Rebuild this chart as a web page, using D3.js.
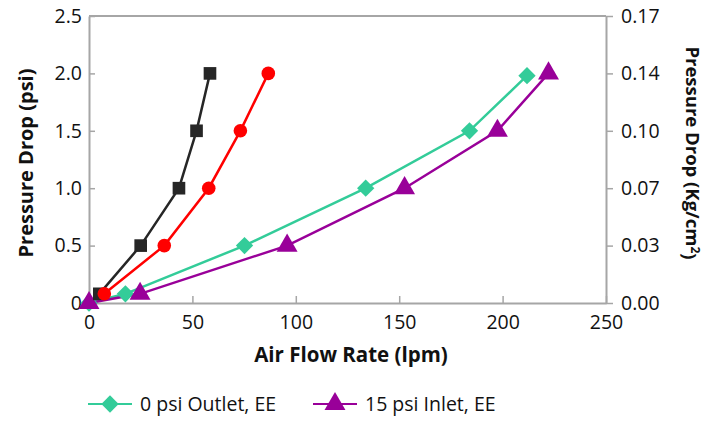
<!DOCTYPE html>
<html><head><meta charset="utf-8">
<script src="https://cdn.jsdelivr.net/npm/d3@7"></script>
<style>body{margin:0;background:#fff}svg{display:block;font-family:"Open Sans",sans-serif}</style>
</head><body><svg id="c" width="718" height="421"></svg>
<script>
const xTicks = [0, 50, 100, 150, 200, 250];
const yTicks = [0, 0.5, 1.0, 1.5, 2.0, 2.5];
const yTickLabels = ["0", "0.5", "1.0", "1.5", "2.0", "2.5"];
const y2TickLabels = ["0.00", "0.03", "0.07", "0.10", "0.14", "0.17"];

const blackX = [5, 25, 43.5, 52, 58.5];
const blackY = [0.08, 0.5, 1.0, 1.5, 2.0];
const redX = [7.4, 36.4, 57.9, 73.2, 86.7];
const redY = [0.08, 0.5, 1.0, 1.5, 2.0];
const greenX = [0, 17.6, 75.2, 133.8, 184, 211.8];
const greenY = [0, 0.08, 0.5, 1.0, 1.5, 1.98];
const purpleX = [0, 24.7, 95.8, 152.6, 197.5, 222.2];
const purpleY = [0, 0.08, 0.5, 1.0, 1.5, 2.0];

const legendNames = ["0 psi Outlet, EE", "15 psi Inlet, EE"];

const svg = d3.select("#c");
const L = 89, R = 606, T = 16, B = 303;
const x = d3.scaleLinear().domain([0, 250]).range([L, R]);
const y = d3.scaleLinear().domain([0, 2.5]).range([B, T]);
const axisCol = "#a6a6a6";
const tickFont = "19.5px";

svg.append("line").attr("x1", L).attr("x2", R).attr("y1", T).attr("y2", T).attr("stroke", axisCol).attr("stroke-width", 2);

const gx = svg.append("g").attr("transform", `translate(0,${B})`)
  .call(d3.axisBottom(x).tickValues(xTicks).tickSizeInner(-7).tickSizeOuter(0).tickPadding(12));
const gy = svg.append("g").attr("transform", `translate(${L},0)`)
  .call(d3.axisLeft(y).tickValues(yTicks).tickSizeInner(-6).tickSizeOuter(0).tickPadding(7)
    .tickFormat((d, i) => yTickLabels[i]));
const gy2 = svg.append("g").attr("transform", `translate(${R},0)`)
  .call(d3.axisRight(y).tickValues(yTicks).tickSizeInner(7).tickSizeOuter(0).tickPadding(8)
    .tickFormat((d, i) => y2TickLabels[i]));
[gx, gy, gy2].forEach(g => {
  g.select(".domain").attr("stroke", axisCol).attr("stroke-width", 2);
  g.selectAll(".tick line").attr("stroke", axisCol).attr("stroke-width", 1.5);
  g.selectAll(".tick text").attr("fill", "#111").style("font-size", tickFont).style("font-family", "'Open Sans',sans-serif");
});
gx.selectAll(".tick text").attr("dy", "0.71em");

svg.append("text").attr("transform", "translate(33,163) rotate(-90)").attr("text-anchor", "middle")
  .style("font-weight", "bold").style("font-size", "20px").attr("fill", "#111").text("Pressure Drop  (psi)");
svg.append("text").attr("x", 351).attr("y", 362).attr("text-anchor", "middle")
  .style("font-weight", "bold").style("font-size", "20.5px").attr("fill", "#111").text("Air Flow Rate (lpm)");
const t2 = svg.append("text").attr("transform", "translate(686,153) rotate(90)").attr("text-anchor", "middle")
  .style("font-weight", "bold").style("font-size", "18.5px").attr("fill", "#111");
t2.append("tspan").text("Pressure Drop (Kg/cm");
t2.append("tspan").attr("dy", "-0.45em").style("font-size", "12px").text("2");
t2.append("tspan").attr("dy", "0.45em").text(")");

const line = d3.line().x(d => x(d[0])).y(d => y(d[1]));
const zip = (a, b) => a.map((v, i) => [v, b[i]]);

const series = [
  {xs: greenX, ys: greenY, color: "#33cc99", shape: d3.symbolSquare, size: 150, rot: 45},
  {xs: purpleX, ys: purpleY, color: "#990099", shape: d3.symbolTriangle, size: 190, rot: 0},
  {xs: blackX, ys: blackY, color: "#262626", shape: d3.symbolSquare, size: 160, rot: 0},
  {xs: redX, ys: redY, color: "#ff0000", shape: d3.symbolCircle, size: 145, rot: 0},
];
series.forEach(s => {
  svg.append("path").attr("d", line(zip(s.xs, s.ys))).attr("fill", "none").attr("stroke", s.color).attr("stroke-width", 2.5);
});
series.forEach(s => {
  svg.selectAll(null).data(zip(s.xs, s.ys)).enter().append("path")
    .attr("d", d3.symbol().type(s.shape).size(s.size))
    .attr("transform", d => `translate(${x(d[0])},${y(d[1])}) rotate(${s.rot})`)
    .attr("fill", s.color);
});

const leg = [
  {name: legendNames[0], color: "#33cc99", shape: d3.symbolSquare, size: 150, rot: 45, x0: 88},
  {name: legendNames[1], color: "#990099", shape: d3.symbolTriangle, size: 190, rot: 0, x0: 313},
];
leg.forEach(l => {
  const ly = 404;
  svg.append("line").attr("x1", l.x0).attr("x2", l.x0 + 44).attr("y1", ly).attr("y2", ly).attr("stroke", l.color).attr("stroke-width", 2);
  svg.append("path").attr("d", d3.symbol().type(l.shape).size(l.size))
    .attr("transform", `translate(${l.x0 + 22},${ly}) rotate(${l.rot})`).attr("fill", l.color);
  svg.append("text").attr("x", l.x0 + 52).attr("y", ly + 7).style("font-size", "19.5px").attr("fill", "#111").text(l.name);
});
</script></body></html>
